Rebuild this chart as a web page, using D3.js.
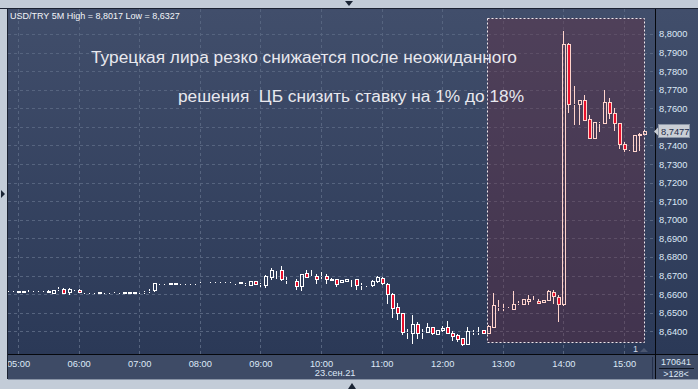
<!DOCTYPE html>
<html>
<head>
<meta charset="utf-8" />
<title>USD/TRY 5M</title>
<script src="https://cdn.jsdelivr.net/npm/d3@7"></script>
<style>
  body { margin: 0; background: #c3ccd8; }
  svg { display: block; font-family: "Liberation Sans", Arial, sans-serif; }
</style>
</head>
<body>
<svg id="chart" width="698" height="389"></svg>
<script>
// 5-minute candles, 23 Sep 2021
var times = ['04:50','04:55','05:00','05:05','05:10','05:15','05:20','05:25','05:30','05:35','05:40','05:45','05:50','05:55',
  '06:00','06:05','06:10','06:15','06:20','06:25','06:30','06:35','06:40','06:45','06:50','06:55',
  '07:00','07:05','07:10','07:15','07:20','07:25','07:30','07:35','07:40','07:45','07:50','07:55',
  '08:00','08:05','08:10','08:15','08:20','08:25','08:30','08:35','08:40','08:45','08:50','08:55',
  '09:00','09:05','09:10','09:15','09:20','09:25','09:30','09:35','09:40','09:45','09:50','09:55',
  '10:00','10:05','10:10','10:15','10:20','10:25','10:30','10:35','10:40','10:45','10:50','10:55',
  '11:00','11:05','11:10','11:15','11:20','11:25','11:30','11:35','11:40','11:45','11:50','11:55',
  '12:00','12:05','12:10','12:15','12:20','12:25','12:30','12:35','12:40','12:45','12:50','12:55',
  '13:00','13:05','13:10','13:15','13:20','13:25','13:30','13:35','13:40','13:45','13:50','13:55',
  '14:00','14:05','14:10','14:15','14:20','14:25','14:30','14:35','14:40','14:45','14:50','14:55',
  '15:00','15:05','15:10','15:15','15:20'];
var opens = [8.6614,8.6612,8.6612,8.6618,8.6612,8.6614,8.6612,8.6613,8.6614,8.6606,8.6629,8.6630,8.6612,8.6627,
  8.6622,8.6610,8.6609,8.6610,8.6608,8.6609,8.6610,8.6608,8.6609,8.6606,8.6611,8.6607,
  8.6610,8.6612,8.6616,8.6622,8.6659,8.6658,8.6658,8.6657,8.6659,8.6658,8.6660,8.6659,
  8.6660,8.6661,8.6660,8.6661,8.6662,8.6661,8.6662,8.6660,8.6663,8.6653,8.6650,8.6669,
  8.6652,8.6647,8.6690,8.6730,8.6728,8.6675,8.6664,8.6669,8.6644,8.6712,8.6700,8.6698,
  8.6700,8.6698,8.6684,8.6680,8.6664,8.6673,8.6681,8.6679,8.6647,8.6647,8.6647,8.6672,
  8.6689,8.6657,8.6599,8.6532,8.6500,8.6396,8.6391,8.6441,8.6396,8.6396,8.6423,8.6387,
  8.6405,8.6423,8.6391,8.6378,8.6366,8.6334,8.6396,8.6398,8.6405,8.6391,8.6423,8.6531,
  8.6528,8.6528,8.6522,8.6553,8.6549,8.6565,8.6570,8.6565,8.6559,8.6571,8.6612,8.6585,
  8.6545,8.7946,8.7623,8.7623,8.7644,8.7540,8.7438,8.7522,8.7519,8.7635,8.7573,8.7519,
  8.7407,8.7379,8.7371,8.7456,8.7461];
var highs = [8.6618,8.6616,8.6617,8.6619,8.6622,8.6617,8.6618,8.6615,8.6620,8.6624,8.6636,8.6633,8.6633,8.6630,
  8.6630,8.6614,8.6612,8.6614,8.6611,8.6613,8.6612,8.6612,8.6611,8.6612,8.6612,8.6611,
  8.6614,8.6616,8.6625,8.6662,8.6662,8.6661,8.6660,8.6661,8.6660,8.6662,8.6661,8.6662,
  8.6663,8.6662,8.6663,8.6664,8.6663,8.6664,8.6664,8.6662,8.6664,8.6660,8.6669,8.6672,
  8.6662,8.6701,8.6740,8.6732,8.6750,8.6690,8.6668,8.6680,8.6706,8.6728,8.6728,8.6706,
  8.6721,8.6706,8.6686,8.6681,8.6675,8.6684,8.6684,8.6684,8.6660,8.6648,8.6675,8.6696,
  8.6690,8.6660,8.6606,8.6550,8.6500,8.6414,8.6486,8.6450,8.6414,8.6446,8.6423,8.6405,
  8.6430,8.6453,8.6402,8.6383,8.6366,8.6423,8.6405,8.6423,8.6405,8.6432,8.6608,8.6569,
  8.6545,8.6529,8.6617,8.6565,8.6576,8.6594,8.6588,8.6576,8.6571,8.6621,8.6621,8.6598,
  8.8017,8.7950,8.7720,8.7644,8.7670,8.7562,8.7527,8.7527,8.7698,8.7655,8.7600,8.7519,
  8.7418,8.7383,8.7456,8.7466,8.7477];
var lows = [8.6611,8.6610,8.6611,8.6611,8.6611,8.6612,8.6611,8.6611,8.6613,8.6605,8.6622,8.6607,8.6603,8.6624,
  8.6614,8.6607,8.6606,8.6607,8.6606,8.6607,8.6607,8.6606,8.6607,8.6605,8.6606,8.6606,
  8.6608,8.6608,8.6613,8.6615,8.6654,8.6656,8.6655,8.6656,8.6656,8.6656,8.6657,8.6657,
  8.6658,8.6658,8.6658,8.6659,8.6659,8.6659,8.6658,8.6657,8.6659,8.6648,8.6648,8.6655,
  8.6642,8.6637,8.6680,8.6687,8.6675,8.6660,8.6663,8.6626,8.6623,8.6694,8.6697,8.6662,
  8.6689,8.6662,8.6675,8.6645,8.6664,8.6673,8.6645,8.6630,8.6630,8.6646,8.6646,8.6668,
  8.6655,8.6552,8.6477,8.6465,8.6384,8.6366,8.6337,8.6366,8.6366,8.6396,8.6387,8.6387,
  8.6402,8.6392,8.6355,8.6346,8.6327,8.6334,8.6387,8.6387,8.6392,8.6391,8.6423,8.6514,
  8.6517,8.6527,8.6522,8.6545,8.6545,8.6545,8.6566,8.6553,8.6559,8.6571,8.6553,8.6455,
  8.6540,8.7581,8.7515,8.7515,8.7537,8.7438,8.7438,8.7480,8.7519,8.7548,8.7483,8.7384,
  8.7371,8.7375,8.7371,8.7375,8.7461];
var closes = [8.6614,8.6613,8.6616,8.6612,8.6613,8.6614,8.6613,8.6612,8.6615,8.6624,8.6630,8.6608,8.6628,8.6627,
  8.6614,8.6610,8.6609,8.6609,8.6609,8.6610,8.6609,8.6608,8.6610,8.6611,8.6607,8.6610,
  8.6612,8.6613,8.6618,8.6660,8.6658,8.6659,8.6657,8.6659,8.6658,8.6660,8.6659,8.6660,
  8.6661,8.6660,8.6661,8.6662,8.6661,8.6662,8.6660,8.6661,8.6660,8.6653,8.6669,8.6655,
  8.6652,8.6696,8.6730,8.6731,8.6679,8.6675,8.6667,8.6644,8.6706,8.6694,8.6700,8.6684,
  8.6700,8.6684,8.6675,8.6652,8.6675,8.6684,8.6681,8.6650,8.6647,8.6647,8.6672,8.6694,
  8.6661,8.6603,8.6527,8.6498,8.6396,8.6396,8.6441,8.6391,8.6396,8.6423,8.6392,8.6405,
  8.6420,8.6392,8.6373,8.6360,8.6334,8.6400,8.6396,8.6398,8.6392,8.6427,8.6540,8.6531,
  8.6528,8.6528,8.6549,8.6553,8.6576,8.6576,8.6570,8.6553,8.6571,8.6617,8.6588,8.6545,
  8.7946,8.7623,8.7623,8.7644,8.7537,8.7438,8.7527,8.7522,8.7635,8.7573,8.7519,8.7407,
  8.7379,8.7379,8.7456,8.7461,8.7477];

var hourLabels = ['05:00','06:00','07:00','08:00','09:00','10:00','11:00','12:00','13:00','14:00','15:00'];
var priceTicks = [8.80, 8.79, 8.78, 8.77, 8.76, 8.75, 8.74, 8.73, 8.72, 8.71, 8.70, 8.69, 8.68, 8.67, 8.66, 8.65, 8.64];
var lastPrice = 8.7477;
var headerText = 'USD/TRY 5M High = 8,8017 Low = 8,6327';
var dateText = '23.сен.21';
var titleLines = ['Турецкая лира резко снижается после неожиданного', 'решения  ЦБ снизить ставку на 1% до 18%'];
var selStart = '12:45', selEnd = '15:20', selHigh = 8.8086, selLow = 8.6340;

var parseT = d3.timeParse('%H:%M');
var candles = times.map(function (t, i) {
  return { t: parseT(t), o: opens[i], h: highs[i], l: lows[i], c: closes[i] };
});

var svg = d3.select('#chart');
var pL = 8, pT = 9, pR = 655, pB = 354, W = 698;
var FONT = '"Liberation Sans", Arial, sans-serif';

var x = d3.scaleTime().domain([parseT('05:00'), parseT('15:00')]).range([18, 624]);
var y = d3.scaleLinear().domain([8.64, 8.80]).range([331.3, 34]);
var fmt = function (v) { return d3.format('.4f')(v).replace('.', ','); };

var defs = svg.append('defs');
var grad = defs.append('linearGradient').attr('id', 'bg')
  .attr('gradientUnits', 'userSpaceOnUse').attr('x1', 0).attr('y1', pT).attr('x2', 0).attr('y2', pB);
grad.append('stop').attr('offset', 0).attr('stop-color', '#414e6b');
grad.append('stop').attr('offset', 1).attr('stop-color', '#2b3957');
defs.append('clipPath').attr('id', 'plotclip').append('rect')
  .attr('x', pL).attr('y', pT).attr('width', pR - pL).attr('height', pB - pT);
defs.append('clipPath').attr('id', 'axclip').append('rect')
  .attr('x', pL).attr('y', pB).attr('width', pR - pL - 4).attr('height', 25);

// panels
svg.append('rect').attr('width', W).attr('height', 389).attr('fill', '#c3ccd8');
svg.append('rect').attr('x', pL).attr('y', pT).attr('width', W - pL).attr('height', 379 - pT).attr('fill', 'url(#bg)');
svg.append('rect').attr('x', pL).attr('y', pB).attr('width', W - pL).attr('height', 25).attr('fill', '#3e4b66');

// grid
var grid = svg.append('g').attr('clip-path', 'url(#plotclip)')
  .attr('stroke', '#56647f').attr('stroke-dasharray', '3,3').attr('stroke-width', 1);
grid.selectAll('line.h').data(priceTicks).enter().append('line').attr('class', 'h')
  .attr('x1', pL).attr('x2', pR)
  .attr('y1', function (d) { return Math.round(y(d)) + 0.5; })
  .attr('y2', function (d) { return Math.round(y(d)) + 0.5; });
grid.selectAll('line.v').data(hourLabels).enter().append('line').attr('class', 'v')
  .attr('y1', pT).attr('y2', pB)
  .attr('x1', function (d) { return Math.round(x(parseT(d))) + 0.5; })
  .attr('x2', function (d) { return Math.round(x(parseT(d))) + 0.5; });

// highlighted window after the rate decision
var sx0 = Math.round(x(parseT(selStart))) - 0.5, sx1 = Math.round(x(parseT(selEnd))) + 0.5;
var sy0 = Math.round(y(selHigh)) + 0.5, sy1 = Math.round(y(selLow)) + 0.5;
svg.append('rect').attr('x', sx0).attr('y', sy0).attr('width', sx1 - sx0).attr('height', sy1 - sy0)
  .attr('fill', 'rgb(105,42,62)').attr('fill-opacity', 0.36);
svg.append('rect').attr('x', sx0).attr('y', sy0).attr('width', sx1 - sx0).attr('height', sy1 - sy0)
  .attr('fill', 'none').attr('stroke', '#f0e6ea').attr('stroke-dasharray', '2,2');

// title
svg.append('text').attr('x', 91).attr('y', 63).attr('fill', '#e8e8ee').attr('font-size', 17.3).text(titleLines[0]);
svg.append('text').attr('x', 178).attr('y', 102).attr('fill', '#e8e8ee').attr('font-size', 17.3)
  .style('white-space', 'pre').text(titleLines[1]);

// candles
var inSel = function (d) { return d.t >= parseT(selStart); };
var cg = svg.append('g').attr('clip-path', 'url(#plotclip)');
var cand = cg.selectAll('g.c').data(candles).enter().append('g').attr('class', 'c');
cand.each(function (d) {
  var g = d3.select(this);
  var c = Math.round(x(d.t));
  var col = inSel(d) ? '#ffd4cc' : '#ffffff';
  var yt = Math.round(y(Math.max(d.o, d.c))), yb = Math.round(y(Math.min(d.o, d.c)));
  var yh = Math.round(y(d.h)), yl = Math.round(y(d.l));
  if (yh < yt) g.append('line').attr('x1', c + 0.5).attr('x2', c + 0.5).attr('y1', yh).attr('y2', yt).attr('stroke', col);
  if (yl > yb) g.append('line').attr('x1', c + 0.5).attr('x2', c + 0.5).attr('y1', yb + 1).attr('y2', yl + 1).attr('stroke', col);
  g.append('rect').attr('x', c - 0.5).attr('y', yt + 0.5).attr('width', 3).attr('height', Math.max(0, yb - yt))
    .attr('fill', d.c < d.o ? '#e8102c' : 'none').attr('stroke', col);
});

// frame lines
svg.append('line').attr('x1', 0).attr('x2', W).attr('y1', pT - 0.5).attr('y2', pT - 0.5).attr('stroke', '#1b2232');
svg.append('line').attr('x1', pL - 0.5).attr('x2', pL - 0.5).attr('y1', pT).attr('y2', 379).attr('stroke', '#1b2232');
svg.append('line').attr('x1', pL).attr('x2', W).attr('y1', pB + 0.5).attr('y2', pB + 0.5).attr('stroke', '#06080d');
svg.append('line').attr('x1', pR + 0.5).attr('x2', pR + 0.5).attr('y1', pT).attr('y2', 379).attr('stroke', '#06080d');
svg.append('line').attr('x1', pR - 2.5).attr('x2', pR - 2.5).attr('y1', pB + 3).attr('y2', 379).attr('stroke', '#25304a');
svg.append('line').attr('x1', pL).attr('x2', W).attr('y1', 379.5).attr('y2', 379.5).attr('stroke', '#8893a5');

// bottom time axis (clip on an outer group so the clip box stays in page coordinates)
var xAxisWrap = svg.append('g').attr('clip-path', 'url(#axclip)');
var xAxis = xAxisWrap.append('g').attr('transform', 'translate(0,' + pB + ')')
  .call(d3.axisBottom(x).tickValues(hourLabels.map(parseT)).tickFormat(d3.timeFormat('%H:%M')).tickSize(0).tickPadding(6));
xAxis.select('.domain').remove();
xAxis.attr('font-size', 9.3).attr('font-family', FONT);
xAxis.selectAll('text').attr('fill', '#dde8f6');
svg.append('text').attr('x', x(parseT('10:14'))).attr('y', 376).attr('text-anchor', 'middle')
  .attr('font-size', 9.3).attr('fill', '#dde8f6').text(dateText);

// right price axis (8,7500 sits under the last-price box, as in the terminal)
var yAxis = svg.append('g').attr('transform', 'translate(' + pR + ',0)')
  .call(d3.axisRight(y).tickValues(priceTicks).tickFormat(fmt).tickSize(0).tickPadding(4));
yAxis.select('.domain').remove();
yAxis.attr('font-size', 9.3).attr('font-family', FONT);
yAxis.selectAll('text').attr('fill', '#dde8f6');

// last price marker
var py = Math.round(y(lastPrice));
var pm = svg.append('g');
pm.append('path').attr('d', 'M654,' + (py + 0.5) + 'L659,' + (py - 4.5) + 'L659,' + (py + 5.5) + 'Z').attr('fill', '#c9ced5');
pm.append('rect').attr('x', 658.5).attr('y', py - 6.5).attr('width', 31).attr('height', 13)
  .attr('fill', '#c9ced5').attr('stroke', '#8a95a6');
pm.append('text').attr('x', 661).attr('y', py + 3.5).attr('font-size', 9.3).attr('fill', '#1e2c4a').text(fmt(lastPrice));
yAxis.selectAll('.tick').filter(function (d) { return Math.abs(y(d) - py) < 8; }).remove();

// header and misc labels
svg.append('text').attr('x', 10).attr('y', 19).attr('font-size', 9).attr('fill', '#f2f4f8').text(headerText);
svg.append('text').attr('x', 633).attr('y', 352).attr('font-size', 9).attr('fill', '#d0dae8').text('1');
svg.append('path').attr('d', 'M640,352L644,348L648,352Z').attr('fill', '#4b5670');
svg.append('text').attr('x', 676).attr('y', 365).attr('text-anchor', 'middle').attr('font-size', 9).attr('fill', '#dde8f6').text('170641');
svg.append('line').attr('x1', 659).attr('x2', 694).attr('y1', 368.5).attr('y2', 368.5).attr('stroke', '#0e1420');
svg.append('text').attr('x', 676).attr('y', 377).attr('text-anchor', 'middle').attr('font-size', 9).attr('fill', '#dde8f6').text('>128<');

// scroll arrows on the outer frame
svg.append('path').attr('d', 'M345,1L353,1L349,6Z').attr('fill', '#1a2434');
svg.append('path').attr('d', 'M1,190L1,198L5,194Z').attr('fill', '#1a2434');
svg.append('path').attr('d', 'M348,389L356,389L352,383Z').attr('fill', '#1a2434');
</script>
</body>
</html>
